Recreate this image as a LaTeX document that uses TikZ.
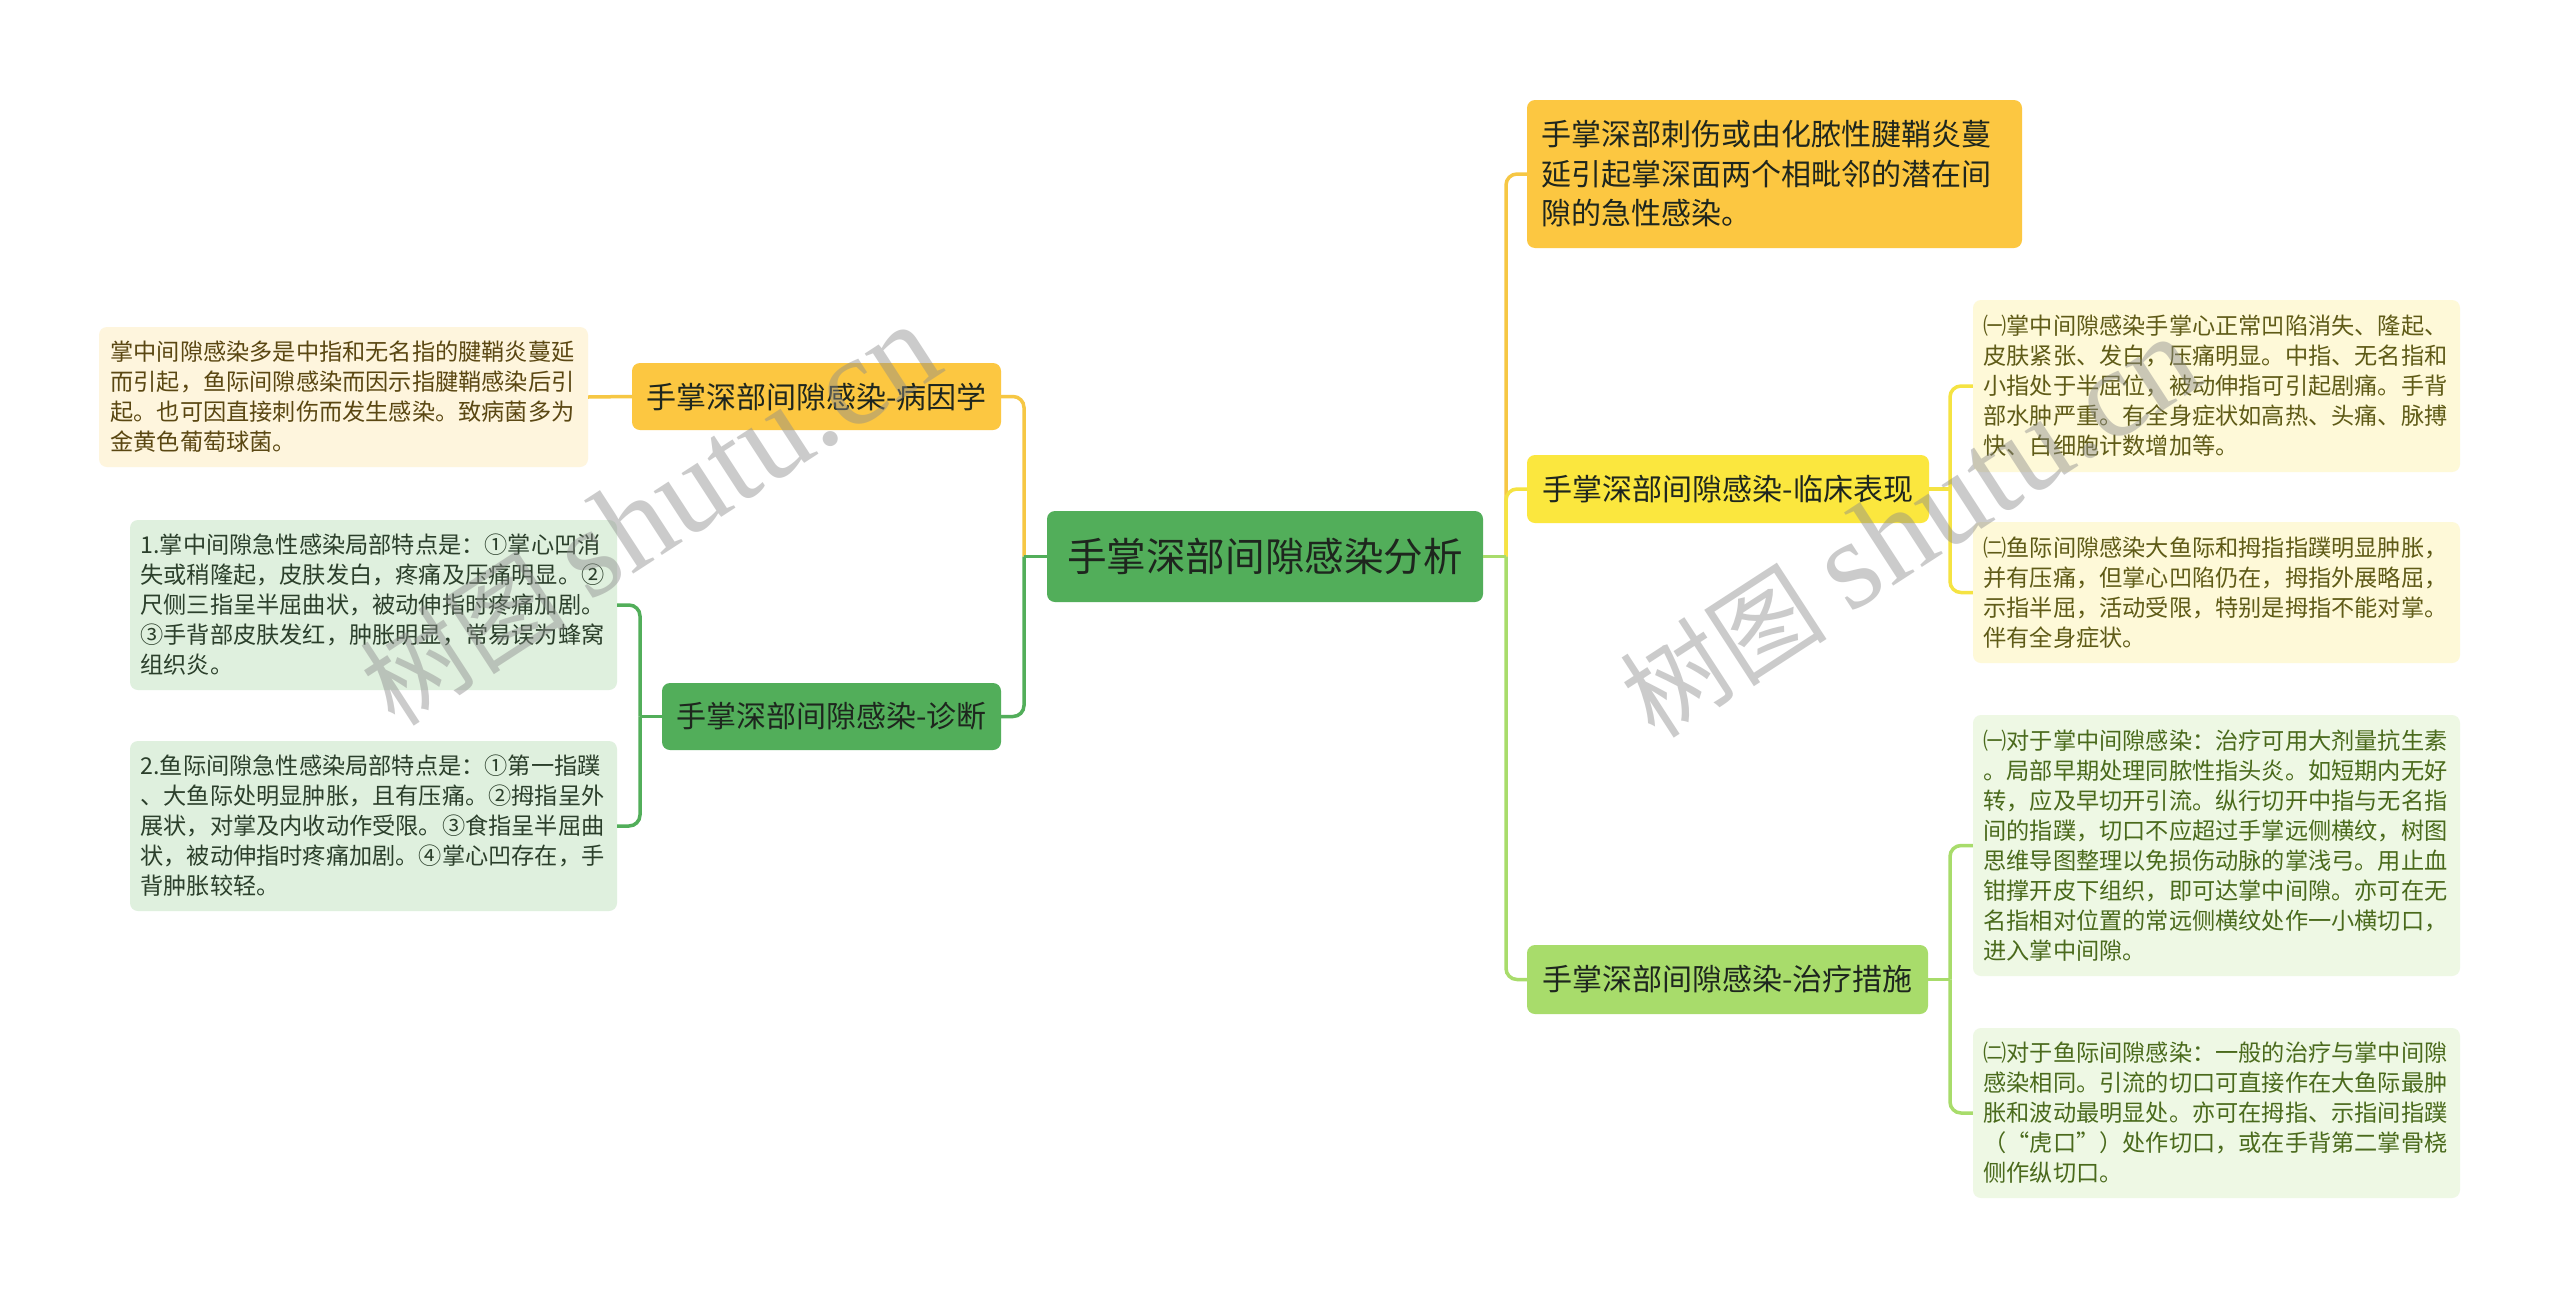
\documentclass[tikz,border=0pt]{standalone}
\usepackage{fontspec}
\setmainfont{Noto Sans CJK SC}
\newfontfamily\wmlatin{Liberation Serif}
\definecolor{cgreen}{HTML}{52AE5A}
\definecolor{cgold}{HTML}{FCC741}
\definecolor{cyellow}{HTML}{FBE73E}
\definecolor{clgreen}{HTML}{A8DC6B}
\definecolor{ccreamL}{HTML}{FEF5DD}
\definecolor{cgreenleaf}{HTML}{DFF0DE}
\definecolor{ccreamR}{HTML}{FEF9D8}
\definecolor{clgreenleaf}{HTML}{EEF8E4}
\definecolor{tdark}{HTML}{1E261E}
\definecolor{tbrown}{HTML}{5A4712}
\definecolor{tdgreen}{HTML}{2B3F2B}
\definecolor{tolive}{HTML}{5F5B17}
\definecolor{tlgreen}{HTML}{4A6A1C}
\definecolor{lgold}{HTML}{F6C744}
\definecolor{lyellow}{HTML}{F5E342}
\definecolor{wmgray}{HTML}{8C8C8C}
\begin{document}
\begin{tikzpicture}[x=1pt,y=-1pt,
  box/.style={rounded corners=8pt, inner sep=0pt},
  mainbox/.style={box, align=center, text=tdark, font=\fontsize{30}{39.5}\selectfont},
  leafbox/.style={box, align=left, text width=466pt, minimum width=487pt, font=\fontsize{23.2}{30}\selectfont},
  link/.style={line width=3.5pt, rounded corners=11pt},
  wmark/.style={text=wmgray, opacity=0.45, rotate=33, inner sep=0pt}
]
\fill[white] (0,0) rectangle (2560,1299);
\useasboundingbox (0,0) rectangle (2560,1299);

% main nodes
\node[mainbox, fill=cgreen, minimum width=436pt, minimum height=91pt, font=\fontsize{39.6}{44}\selectfont] (root) at (1265,556.5) {手掌深部间隙感染分析};
\node[mainbox, fill=cgold, minimum width=369pt, minimum height=67pt] (L1) at (816.5,396.5) {手掌深部间隙感染-病因学};
\node[mainbox, fill=cgreen, minimum width=339pt, minimum height=67pt] (L2) at (831.5,716.5) {手掌深部间隙感染-诊断};
\node[mainbox, fill=cgold, align=left, text width=466pt, minimum width=495pt, minimum height=148pt] (R0) at (1774.5,174) {手掌深部刺伤或由化脓性腱鞘炎蔓\\延引起掌深面两个相毗邻的潜在间\\隙的急性感染。};
\node[mainbox, fill=cyellow, minimum width=402pt, minimum height=68pt] (R1) at (1728,489) {手掌深部间隙感染-临床表现};
\node[mainbox, fill=clgreen, minimum width=401pt, minimum height=69pt] (R2) at (1727.5,979.5) {手掌深部间隙感染-治疗措施};

% leaves
\node[leafbox, fill=ccreamL, text=tbrown, minimum width=489pt, minimum height=140pt] (leaf1) at (343.5,397) {掌中间隙感染多是中指和无名指的腱鞘炎蔓延\\而引起，鱼际间隙感染而因示指腱鞘感染后引\\起。也可因直接刺伤而发生感染。致病菌多为\\金黄色葡萄球菌。};
\node[leafbox, fill=cgreenleaf, text=tdgreen, minimum height=170pt] (leaf2a) at (373.5,605) {1.掌中间隙急性感染局部特点是：①掌心凹消\\失或稍隆起，皮肤发白，疼痛及压痛明显。②\\尺侧三指呈半屈曲状，被动伸指时疼痛加剧。\\③手背部皮肤发红，肿胀明显，常易误为蜂窝\\组织炎。};
\node[leafbox, fill=cgreenleaf, text=tdgreen, minimum height=170pt] (leaf2b) at (373.5,826) {2.鱼际间隙急性感染局部特点是：①第一指蹼\\、大鱼际处明显肿胀，且有压痛。②拇指呈外\\展状，对掌及内收动作受限。③食指呈半屈曲\\状，被动伸指时疼痛加剧。④掌心凹存在，手\\背肿胀较轻。};
\node[leafbox, fill=ccreamR, text=tolive, minimum height=172pt] (R1a) at (2216.5,386) {㈠掌中间隙感染手掌心正常凹陷消失、隆起、\\皮肤紧张、发白，压痛明显。中指、无名指和\\小指处于半屈位，被动伸指可引起剧痛。手背\\部水肿严重。有全身症状如高热、头痛、脉搏\\快、白细胞计数增加等。};
\node[leafbox, fill=ccreamR, text=tolive, minimum height=141pt] (R1b) at (2216.5,592.5) {㈡鱼际间隙感染大鱼际和拇指指蹼明显肿胀，\\并有压痛，但掌心凹陷仍在，拇指外展略屈，\\示指半屈，活动受限，特别是拇指不能对掌。\\伴有全身症状。};
\node[leafbox, fill=clgreenleaf, text=tlgreen, minimum height=261pt] (R2a) at (2216.5,845.5) {㈠对于掌中间隙感染：治疗可用大剂量抗生素\\。局部早期处理同脓性指头炎。如短期内无好\\转，应及早切开引流。纵行切开中指与无名指\\间的指蹼，切口不应超过手掌远侧横纹，树图\\思维导图整理以免损伤动脉的掌浅弓。用止血\\钳撑开皮下组织，即可达掌中间隙。亦可在无\\名指相对位置的常远侧横纹处作一小横切口，\\进入掌中间隙。};
\node[leafbox, fill=clgreenleaf, text=tlgreen, minimum height=170pt] (R2b) at (2216.5,1113) {㈡对于鱼际间隙感染：一般的治疗与掌中间隙\\感染相同。引流的切口可直接作在大鱼际最肿\\胀和波动最明显处。亦可在拇指、示指间指蹼\\（“虎口”）处作切口，或在手背第二掌骨桡\\侧作纵切口。};

% junctions
\coordinate (jL) at (1024,556.5);
\coordinate (jR) at (1506,556.5);
\coordinate (jL2) at (640,716.5);
\coordinate (jR1) at (1950,489);
\coordinate (jR2) at (1950,979.5);

% connectors left
\draw[link, lgold] (L1.east) -| (jL);
\draw[link, cgreen] (L2.east) -| (jL);
\draw[link, cgreen] (root.west) -- (jL);
\draw[link, lgold] (L1.west) -- (leaf1.east);
\draw[link, cgreen] (L2.west) -- (jL2);
\draw[link, cgreen] (jL2) |- (leaf2a.east);
\draw[link, cgreen] (jL2) |- (leaf2b.east);
% connectors right
\draw[link, lgold] (R0.west) -| (jR);
\draw[link, lyellow] (R1.west) -| (jR);
\draw[link, clgreen] (R2.west) -| (jR);
\draw[link, clgreen] (root.east) -- (jR);
\draw[link, lyellow] (R1.east) -- (jR1);
\draw[link, lyellow] (jR1) |- (R1a.west);
\draw[link, lyellow] (jR1) |- (R1b.west);
\draw[link, clgreen] (R2.east) -- (jR2);
\draw[link, clgreen] (jR2) |- (R2a.west);
\draw[link, clgreen] (jR2) |- (R2b.west);

% watermarks
\node[wmark, font=\fontsize{104}{110}\selectfont] (wm1) at (650,516) {树图 {\wmlatin\fontsize{127}{135}\selectfont shutu.cn}};
\node[wmark, font=\fontsize{104}{110}\selectfont] (wm2) at (1910,528) {树图 {\wmlatin\fontsize{127}{135}\selectfont shutu.cn}};
\end{tikzpicture}
\end{document}
